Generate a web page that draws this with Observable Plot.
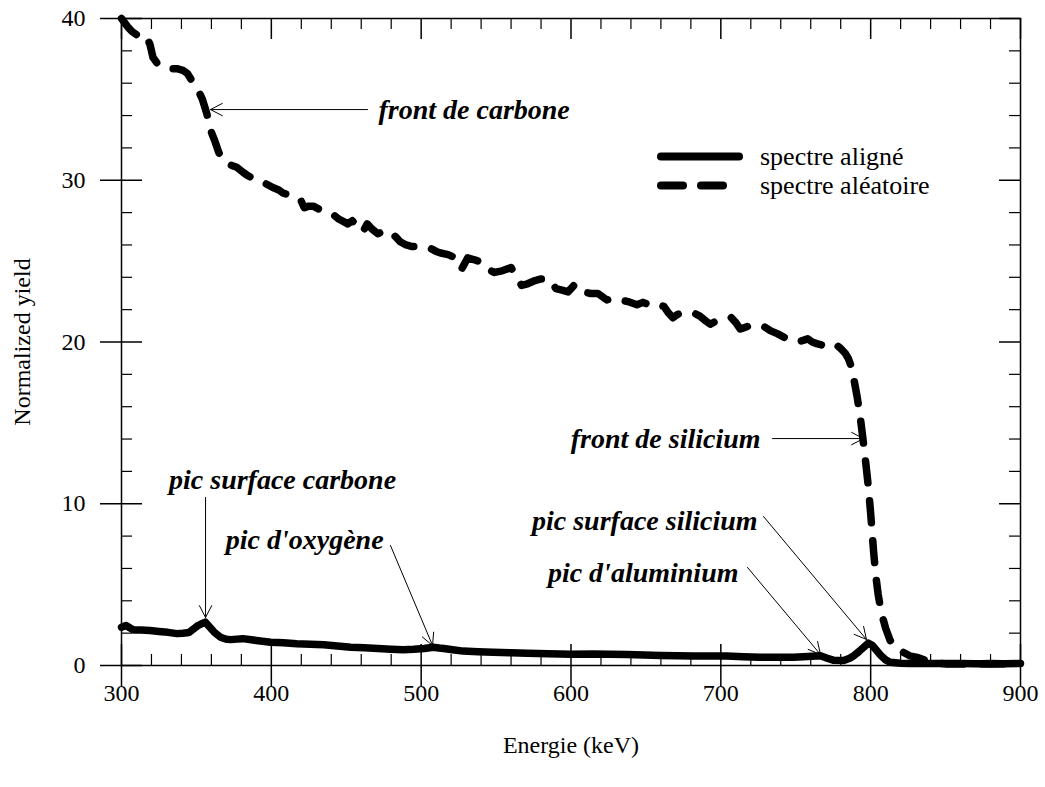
<!DOCTYPE html>
<html><head><meta charset="utf-8">
<script src="https://cdn.jsdelivr.net/npm/d3@7"></script>
<script src="https://cdn.jsdelivr.net/npm/@observablehq/plot@0.6"></script>
<style>
body{margin:0;background:#fff;}
#wrap{position:relative;width:1045px;height:787px;}
#wrap svg text{font-family:"Liberation Serif","Times New Roman",serif;}
#legend{position:absolute;left:653px;top:142px;font-family:"Liberation Serif",serif;font-size:26px;color:#000;}
#legend .row{display:flex;align-items:center;height:29px;}
#legend svg{width:104px;height:29px;margin-right:3px;}
</style></head><body><div id="wrap"><div id="legend"></div></div>
<script>
// Random (aléatoire) spectrum
const energyRandom = [300,304,307,310,313,317,319,321,324,328,333,337,341,344,348,351,354,357,359,362,365,368,371,374,377,381,384,388,392,396,401,405,408,412,416,419.5,422,425,428,432,436,441,445,451,454,458,461,464,467,471,474,478,483,486,490,494,498,502,506,510,513,518,523,527,531,535,540,544,549,554,560,564,567,571,576,580,585,590,594,598,602,605,608,613,618,624,628,633,638,644,648,652,655,658,662,665,668,671,674,678,682,686,690,693,697,702,707,710,713,716,719,723,728,733,738,742,746,751,755,758,761,764,768,772,776,780,783,785,787,789,791,793,795,797,798.5,800,802,803.5,805,807,810,813,816,819,822,826,831,836,840,845,850,860,870,880,890,900];
const yieldRandom = [40.0,39.5,39.2,39.0,38.7,38.8,38.4,37.6,37.2,37.0,36.9,36.9,36.8,36.6,36.0,35.6,35.0,34.1,33.2,32.5,31.7,31.2,31.0,30.9,30.8,30.5,30.3,30.1,30.0,29.8,29.55,29.4,29.2,29.1,29.0,28.8,28.3,28.4,28.4,28.2,28.1,27.9,27.6,27.3,27.5,27.1,26.8,27.3,27.0,26.7,26.8,26.9,26.5,26.2,26.0,25.9,25.9,25.85,25.8,25.6,25.5,25.4,25.2,24.5,25.2,25.1,24.95,24.5,24.3,24.4,24.6,24.0,23.5,23.6,23.8,23.9,23.9,23.3,23.2,23.1,23.5,23.5,23.1,23.0,23.0,22.6,22.7,22.6,22.5,22.3,22.45,22.3,22.2,22.3,22.2,21.8,21.5,21.7,21.8,21.8,21.8,21.6,21.3,21.1,21.3,21.4,21.5,21.2,20.8,20.9,21.0,21.0,21.0,20.7,20.5,20.3,20.2,20.0,20.1,20.2,20.0,19.9,19.8,19.9,19.9,19.6,19.3,19.0,18.5,17.6,16.6,15.4,13.9,12.3,11.0,9.4,7.0,5.5,4.4,3.3,2.3,1.55,1.2,0.95,0.8,0.6,0.5,0.35,0.2,0.15,0.1,0.1,0.1,0.12,0.1,0.1];

// Aligned (aligné) spectrum
const energyAligned = [300,303,306,308,313,319,325,331,337,341,345,348,351,354,356,359,362,366,370,373,377,381,390,399.5,408,417,426,435,444,453,462,471,480,488,495,502,508,512,515,521,528,538,548,560,571,585,600,615,626,637.5,649,660,671,682,693,704,715,726.5,737,748.5,758,766.5,771,775,782,786,789,792,795,798.5,801,804,807,810,813,820,826,840,860,880,900];
const yieldAligned = [2.37,2.47,2.3,2.2,2.2,2.16,2.1,2.05,1.97,2.0,2.04,2.25,2.47,2.6,2.68,2.37,2.05,1.75,1.62,1.6,1.63,1.66,1.55,1.44,1.4,1.35,1.32,1.28,1.2,1.13,1.09,1.05,1.01,0.98,1.0,1.05,1.13,1.08,1.05,0.97,0.89,0.85,0.82,0.79,0.76,0.73,0.7,0.71,0.69,0.68,0.65,0.62,0.6,0.58,0.58,0.58,0.54,0.51,0.51,0.51,0.55,0.6,0.45,0.33,0.31,0.45,0.62,0.85,1.1,1.38,1.25,0.93,0.6,0.35,0.2,0.14,0.12,0.12,0.12,0.1,0.12];

// Axis ticks
const majorX = [300,400,500,600,700,800,900];
const minorX = d3.range(300, 901, 20).filter(v => v % 100 !== 0);
const majorY = [0,10,20,30,40];
const minorY = d3.range(0, 41, 2).filter(v => v % 10 !== 0);

// Annotations
const annotationLabels = ["front de carbone","front de silicium","pic surface carbone","pic d'oxygène","pic surface silicium","pic d'aluminium"];
const labelEnergy = [471.5,726.5,407.5,474.9,724.5,711.8];
const labelYield = [34.37,14.03,11.44,7.73,8.96,5.69];
const labelAnchor = ["start","end","middle","end","end","end"];
const arrowFromEnergy = [464.2,734.5,356.1,479.5,728.5,717.8];
const arrowFromYield = [34.37,14.03,10.39,7.42,9.21,6.06];
const arrowToEnergy = [359.4,795.2,356.1,507.6,797.2,766.5];
const arrowToYield = [34.37,14.03,2.97,1.24,1.61,0.68];

const legendLabels = ["spectre aligné","spectre aléatoire"];

const random = energyRandom.map((e,i)=>({e, y: yieldRandom[i]}));
const aligned = energyAligned.map((e,i)=>({e, y: yieldAligned[i]}));
const notes = annotationLabels.map((t,i)=>({t, x:labelEnergy[i], y:labelYield[i], a:labelAnchor[i],
  x1:arrowFromEnergy[i], y1:arrowFromYield[i], x2:arrowToEnergy[i], y2:arrowToYield[i]}));

const W = 1045, H = 787, mL = 121, mR = 25, mT = 18, mB = 122;
const fw = W - mL - mR, fh = H - mT - mB;
const FONT = "Liberation Serif";

const textMarks = ["start","middle","end"].map(a => Plot.text(notes.filter(d=>d.a===a), {
  x:"x", y:"y", text:"t", textAnchor:a, fontSize:28, fontWeight:"bold", fontStyle:"italic", fill:"black", fontFamily:FONT
}));

const chart = Plot.plot({
  width: W, height: H,
  marginLeft: mL, marginRight: mR, marginTop: mT, marginBottom: mB,
  x: {domain:[300,900], axis:null},
  y: {domain:[0,40], axis:null},
  style: {fontFamily:FONT, fontSize:"24px", background:"white", color:"black"},
  marks: [
    Plot.frame({stroke:"black", strokeWidth:1.5}),
    Plot.tickX(majorX, {x:d=>d, insetTop: fh-21, insetBottom:-21, strokeWidth:1.5}),
    Plot.tickX(minorX, {x:d=>d, insetTop: fh-11, strokeWidth:1.2}),
    Plot.tickX(majorX, {x:d=>d, insetBottom: fh-21, strokeWidth:1.5}),
    Plot.tickX(minorX, {x:d=>d, insetBottom: fh-11, strokeWidth:1.2}),
    Plot.tickY(majorY, {y:d=>d, insetLeft:-21, insetRight: fw-21, strokeWidth:1.5}),
    Plot.tickY(minorY, {y:d=>d, insetRight: fw-11, strokeWidth:1.2}),
    Plot.tickY(majorY, {y:d=>d, insetLeft: fw-21, strokeWidth:1.5}),
    Plot.tickY(minorY, {y:d=>d, insetLeft: fw-11, strokeWidth:1.2}),
    Plot.text(majorX, {x:d=>d, text:d=>String(d), frameAnchor:"bottom", dy:28, lineAnchor:"middle", textAnchor:"middle", fontSize:24, fill:"black", fontFamily:FONT}),
    Plot.text(majorY, {y:d=>d, text:d=>String(d), frameAnchor:"left", dx:-36, textAnchor:"end", lineAnchor:"middle", fontSize:24, fill:"black", fontFamily:FONT}),
    Plot.text(["Energie (keV)"], {frameAnchor:"bottom", dy:80, textAnchor:"middle", lineAnchor:"middle", fontSize:24, fill:"black", fontFamily:FONT}),
    Plot.text(["Normalized yield"], {frameAnchor:"left", dx:-99, rotate:-90, textAnchor:"middle", lineAnchor:"middle", fontSize:24, fill:"black", fontFamily:FONT}),
    Plot.line(random, {x:"e", y:"y", stroke:"black", strokeWidth:7.5, strokeDasharray:"22,18", strokeLinecap:"round", strokeLinejoin:"round"}),
    Plot.line(aligned, {x:"e", y:"y", stroke:"black", strokeWidth:7.5, strokeLinecap:"round", strokeLinejoin:"round"}),
    Plot.arrow(notes, {x1:"x1", y1:"y1", x2:"x2", y2:"y2", stroke:"black", strokeWidth:1, headLength:20, headAngle:55}),
    ...textMarks
  ]
});
document.getElementById("wrap").prepend(chart);

const legend = document.getElementById("legend");
legendLabels.forEach((lab, i) => {
  const row = document.createElement("div"); row.className = "row";
  const dash = i === 0 ? "" : 'stroke-dasharray="22 18"';
  const x2 = i === 0 ? 82 : 70;
  row.innerHTML = `<svg viewBox="0 0 104 29"><line x1="8" x2="${x2+4}" y1="14.5" y2="14.5" stroke="black" stroke-width="8" stroke-linecap="round" ${dash}/></svg><span>${lab}</span>`;
  legend.appendChild(row);
});
</script>
</body></html>
